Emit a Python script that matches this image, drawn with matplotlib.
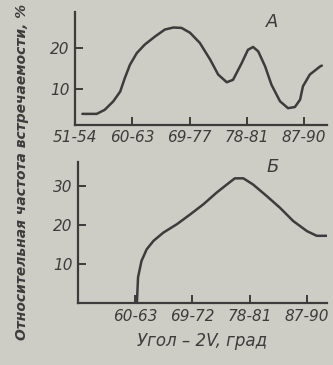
import matplotlib.pyplot as plt
import matplotlib

matplotlib.rcParams['font.family'] = ['Liberation Sans Narrow', 'DejaVu Sans']
matplotlib.rcParams['font.style'] = 'italic'

bg = '#cdcdc6'
ink = '#3c3c3c'

# панель А
labels_a = ['51-54', '60-63', '69-77', '78-81', '87-90']
x_a = [0.13, 0.38, 0.52, 0.67, 0.79, 0.87, 0.96, 1.08, 1.22, 1.40, 1.57, 1.72, 1.86,
       2.01, 2.18, 2.36, 2.50, 2.65, 2.76, 2.91, 3.02, 3.11, 3.20, 3.32, 3.43, 3.58,
       3.72, 3.84, 3.93, 3.98, 4.10, 4.28, 4.31]
y_a = [3.8, 3.8, 4.8, 6.9, 9.3, 12.6, 15.9, 18.8, 20.9, 22.9, 24.6, 25.1, 25.0,
       23.8, 21.3, 17.2, 13.5, 11.6, 12.2, 16.3, 19.6, 20.3, 19.2, 15.5, 11.0, 6.9,
       5.2, 5.5, 7.3, 10.6, 13.5, 15.5, 15.7]

# панель Б
labels_b = ['60-63', '69-72', '78-81', '87-90']
x_b = [1.03, 1.05, 1.11, 1.20, 1.32, 1.49, 1.73, 1.96, 2.19, 2.42, 2.60, 2.74, 2.89,
       3.06, 3.30, 3.53, 3.76, 4.00, 4.17, 4.38]
y_b = [0.0, 6.6, 10.8, 13.8, 16.0, 18.1, 20.3, 22.8, 25.4, 28.4, 30.5, 32.1, 32.1,
       30.5, 27.5, 24.5, 21.1, 18.5, 17.3, 17.3]

fig = plt.figure(figsize=(3.33, 3.65), dpi=100, facecolor=bg)
axA = fig.add_axes([0.225, 0.658, 0.757, 0.31])
axB = fig.add_axes([0.234, 0.170, 0.748, 0.385])

for ax in (axA, axB):
    ax.set_facecolor(bg)
    for s in ('top', 'right'):
        ax.spines[s].set_visible(False)
    for s in ('left', 'bottom'):
        ax.spines[s].set_color(ink)
        ax.spines[s].set_linewidth(1.6)
    ax.tick_params(direction='in', length=6, width=1.4, color=ink,
                   labelcolor=ink, labelsize=11, pad=4)

axA.plot(x_a, y_a, color=ink, lw=1.8, solid_capstyle='round', solid_joinstyle='round')
axA.set_xlim(0, 4.4)
axA.set_ylim(1.1, 29.0)
axA.set_xticks(range(len(labels_a)))
axA.set_xticklabels(labels_a)
axA.set_yticks([10, 20])
axA.text(3.45, 26.5, 'А', fontsize=13, color=ink, ha='center', va='center')

axB.plot(x_b, y_b, color=ink, lw=1.8, solid_capstyle='round', solid_joinstyle='round')
axB.set_xlim(0, 4.35)
axB.set_ylim(0, 36.2)
axB.set_xticks(range(1, len(labels_b) + 1))
axB.set_xticklabels(labels_b)
axB.set_yticks([10, 20, 30])
axB.text(3.41, 35.0, 'Б', fontsize=13, color=ink, ha='center', va='center')
axB.set_xlabel('Угол – 2V, град', fontsize=12, color=ink, labelpad=6)

fig.text(0.065, 0.53, 'Относительная частота встречаемости, %', rotation=90,
         ha='center', va='center', fontsize=10, color=ink, fontweight='bold')

plt.savefig('out.png', dpi=100, facecolor=bg)
